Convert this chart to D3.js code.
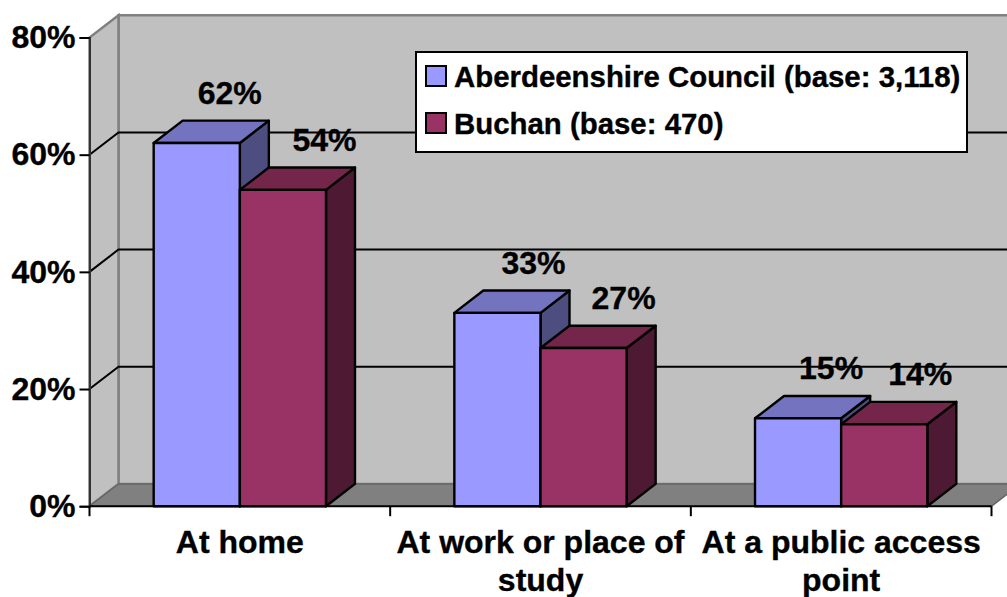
<!DOCTYPE html>
<html>
<head>
<meta charset="utf-8">
<script src="https://cdn.jsdelivr.net/npm/d3@7"></script>
<style>
  body { margin: 0; background: #fff; }
  svg { display: block; }
  text { font-family: "Liberation Sans", Arial, sans-serif; font-weight: bold; font-size: 32px; fill: #000; stroke: #000; stroke-width: 0.35px; }
  .legend-item text { font-size: 29.4px; }
</style>
</head>
<body>
<svg width="1007" height="597"></svg>
<script>
const categories = [["At home"], ["At work or place of", "study"], ["At a public access", "point"]];
const seriesNames = ["Aberdeenshire Council (base: 3,118)", "Buchan (base: 470)"];
const aberdeenshire = [62, 33, 15];
const buchan = [54, 27, 14];
const yTicks = [0, 20, 40, 60, 80];

// colours per series: front, top, side
const colours = [
  ["#9999ff", "#7373bf", "#4d4d80"],
  ["#993366", "#732649", "#4d1933"],
];
// fake 3d depth
const dx = 29, dy = -22.3;
// the labels sit a little off in the original, sideways shift per category
const labelShift = [[33, 41.5], [36, 40], [33, 36]];

const svg = d3.select("svg");
const plotLeft = 89.5, plotRight = 991.5, plotBottom = 506.2, plotTop = 37.5;

const y = d3.scaleLinear().domain([0, 80]).range([plotBottom, plotTop]);
const x0 = d3.scaleBand().domain(d3.range(categories.length)).range([plotLeft, plotRight]);
const x1 = d3.scaleBand().domain([0, 1]).range([0, x0.bandwidth()]).paddingInner(0).paddingOuter(0.745);

const line = d3.line();
const wallGrey = "#c0c0c0", edgeGrey = "#808080";

// back wall, left wall, floor
svg.append("path")
  .attr("d", line([[plotLeft + dx, y(80) + dy], [plotRight + dx, y(80) + dy], [plotRight + dx, plotBottom + dy], [plotLeft + dx, plotBottom + dy]]) + "Z")
  .attr("fill", wallGrey).attr("stroke", edgeGrey).attr("stroke-width", 2.5);
svg.append("path")
  .attr("d", line([[plotLeft, plotBottom], [plotLeft, y(80)], [plotLeft + dx, y(80) + dy], [plotLeft + dx, plotBottom + dy]]) + "Z")
  .attr("fill", wallGrey).attr("stroke", edgeGrey).attr("stroke-width", 2.5);
svg.append("path")
  .attr("d", line([[plotLeft, plotBottom], [plotLeft + dx, plotBottom + dy], [plotRight + dx, plotBottom + dy], [plotRight, plotBottom]]) + "Z")
  .attr("fill", edgeGrey).attr("stroke", "#666").attr("stroke-width", 1.5);

// gridlines, they bend round the corner of the walls
svg.append("g").selectAll("path")
  .data(yTicks.filter((d) => d > 0 && d < 80))
  .enter()
  .append("path")
  .attr("d", (d) => line([[plotLeft, y(d)], [plotLeft + dx, y(d) + dy], [plotRight + dx, y(d) + dy]]))
  .attr("fill", "none").attr("stroke", "#000").attr("stroke-width", 2);

// bars, one group per category
const rows = categories.map((c, i) => [
  { cat: i, s: 0, value: aberdeenshire[i] },
  { cat: i, s: 1, value: buchan[i] },
]);
const group = svg.append("g").selectAll("g")
  .data(rows)
  .enter()
  .append("g")
  .attr("transform", (d, i) => "translate(" + x0(i) + ",0)");
const bar = group.selectAll("g")
  .data((d) => d)
  .enter()
  .append("g")
  .attr("stroke", "#000").attr("stroke-width", 2.4).attr("stroke-linejoin", "round");
const w = x1.bandwidth();
bar.append("path") // side
  .attr("fill", (d) => colours[d.s][2])
  .attr("d", (d) => {
    const a = x1(d.s) + w, t = y(d.value);
    return line([[a, t], [a + dx, t + dy], [a + dx, plotBottom + dy], [a, plotBottom]]) + "Z";
  });
bar.append("path") // top
  .attr("fill", (d) => colours[d.s][1])
  .attr("d", (d) => {
    const a = x1(d.s), t = y(d.value);
    return line([[a, t], [a + dx, t + dy], [a + w + dx, t + dy], [a + w, t]]) + "Z";
  });
bar.append("rect") // front
  .attr("fill", (d) => colours[d.s][0])
  .attr("x", (d) => x1(d.s))
  .attr("y", (d) => y(d.value))
  .attr("width", w)
  .attr("height", (d) => plotBottom - y(d.value));

// value labels
group.selectAll("text")
  .data((d) => d)
  .enter()
  .append("text")
  .attr("text-anchor", "middle")
  .attr("x", (d) => x1(d.s) + w / 2 + labelShift[d.cat][d.s])
  .attr("y", (d) => y(d.value) - 39)
  .text((d) => d.value + "%");

// y axis
const yAxis = svg.append("g")
  .attr("transform", "translate(" + plotLeft + ",0)")
  .call(d3.axisLeft(y).tickValues(yTicks).tickFormat((d) => d + "%").tickSize(10).tickPadding(4));
yAxis.select(".domain").attr("stroke", "#333").attr("stroke-width", 2);
yAxis.selectAll(".tick line").attr("stroke", "#000").attr("stroke-width", 2);

// x axis, ticks fall on the band edges so no axisBottom here
svg.append("path")
  .attr("d", line([[plotLeft, plotBottom], [plotRight, plotBottom]]))
  .attr("stroke", "#000").attr("stroke-width", 2);
svg.append("g").selectAll("path")
  .data(d3.range(categories.length + 1))
  .enter()
  .append("path")
  .attr("d", (d) => {
    const a = plotLeft + d * x0.step();
    return line([[a, plotBottom], [a, plotBottom + 10]]);
  })
  .attr("stroke", "#000").attr("stroke-width", 2);

const catLabel = svg.append("g").selectAll("text")
  .data(categories)
  .enter()
  .append("text")
  .attr("text-anchor", "middle")
  .attr("y", 552.7);
catLabel.selectAll("tspan")
  .data((d) => d)
  .enter()
  .append("tspan")
  .attr("x", function () { return x0(categories.indexOf(d3.select(this.parentNode).datum())) + x0.bandwidth() / 2; })
  .attr("dy", (d, i) => (i ? 38.5 : 0))
  .text((d) => d);

// legend
const legend = svg.append("g");
legend.append("rect")
  .attr("x", 416).attr("y", 52).attr("width", 551).attr("height", 100)
  .attr("fill", "#fff").attr("stroke", "#000").attr("stroke-width", 2);
const item = legend.selectAll("g")
  .data(seriesNames)
  .enter()
  .append("g")
  .attr("class", "legend-item")
  .attr("transform", (d, i) => "translate(426," + (66 + i * 47) + ")");
item.append("rect")
  .attr("width", 20).attr("height", 20)
  .attr("fill", (d, i) => colours[i][0])
  .attr("stroke", "#000").attr("stroke-width", 2);
item.append("text")
  .attr("x", 28).attr("y", 21)
  .text((d) => d);
</script>
</body>
</html>
